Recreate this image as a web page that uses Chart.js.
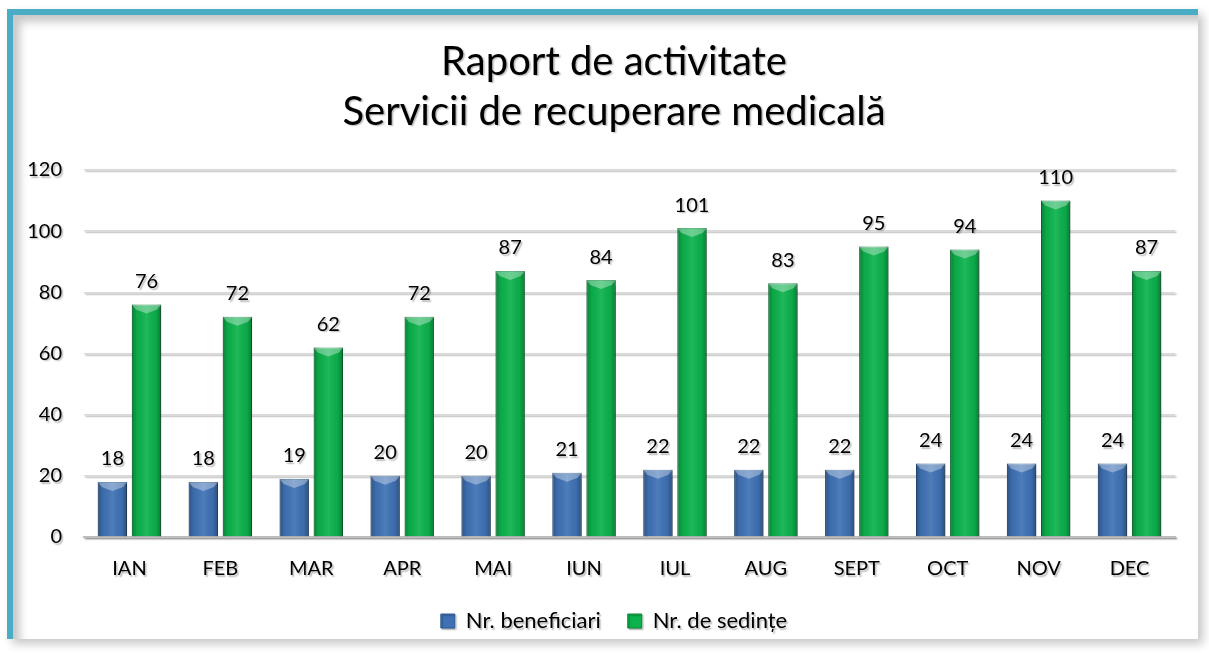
<!DOCTYPE html>
<html>
<head>
<meta charset="utf-8">
<script src="https://cdn.jsdelivr.net/npm/chart.js@4/dist/chart.umd.min.js"></script>
<style>
  body { margin: 0; background: #fff; }
  .frame {
    position: absolute; left: 7px; top: 9px;
    width: 1185px; height: 624px;
    border-top: 6px solid #4bacc6; border-left: 6px solid #4bacc6;
    box-shadow: inset 7px 7px 9px rgba(0,0,0,0.22), 5px 5px 9px rgba(0,0,0,0.22);
    background: #fff;
  }
  canvas { display: block; }
</style>
</head>
<body>
<div class="frame"><canvas id="raport" width="1185" height="629"></canvas></div>
<script>
var luni = ['IAN', 'FEB', 'MAR', 'APR', 'MAI', 'IUN', 'IUL', 'AUG', 'SEPT', 'OCT', 'NOV', 'DEC'];
var beneficiari = [18, 18, 19, 20, 20, 21, 22, 22, 22, 24, 24, 24];
var sedinte = [76, 72, 62, 72, 87, 84, 101, 83, 95, 94, 110, 87];
var yTicks = [0, 20, 40, 60, 80, 100, 120];

var font = 'Lato, "Open Sans", sans-serif';

// umbra discreta pentru texte si linii, ca in stilul Office
var umbra = {
  id: 'umbra',
  beforeDraw: function (chart) {
    var ctx = chart.ctx;
    ctx.shadowColor = 'rgba(0,0,0,0.28)';
    ctx.shadowOffsetX = 1.5;
    ctx.shadowOffsetY = 1.5;
    ctx.shadowBlur = 1.5;
  }
};

// titlul si legenda centrate putin mai la dreapta, peste zona graficului
var centrare = {
  id: 'centrare',
  afterLayout: function (chart) {
    [chart.titleBlock, chart.legend].forEach(function (box) {
      if (box) { box.left += 20; box.right += 20; }
    });
  }
};

// relief pe coloane + valorile deasupra lor
var coloane = {
  id: 'coloane',
  afterDatasetsDraw: function (chart) {
    var ctx = chart.ctx;
    ctx.save();
    ctx.shadowColor = 'transparent';
    chart.data.datasets.forEach(function (ds, i) {
      var meta = chart.getDatasetMeta(i);
      meta.data.forEach(function (bar, j) {
        var l = bar.x - bar.width / 2, r = bar.x + bar.width / 2;
        var top = bar.y, bottom = bar.base;
        var g = ctx.createLinearGradient(l, 0, r, 0);
        g.addColorStop(0, 'rgba(0,0,0,0.28)');
        g.addColorStop(0.18, 'rgba(0,0,0,0.05)');
        g.addColorStop(0.5, 'rgba(255,255,255,0.08)');
        g.addColorStop(0.82, 'rgba(0,0,0,0.05)');
        g.addColorStop(1, 'rgba(0,0,0,0.3)');
        ctx.fillStyle = g;
        ctx.fillRect(l, top, r - l, bottom - top);
        // tesitura de sus
        ctx.fillStyle = 'rgba(255,255,255,0.35)';
        ctx.beginPath();
        ctx.moveTo(l, top);
        ctx.lineTo(r, top);
        ctx.lineTo(r - 4, top + 5);
        ctx.lineTo(bar.x, top + 9);
        ctx.lineTo(l + 4, top + 5);
        ctx.closePath();
        ctx.fill();
      });
    });
    ctx.restore();

    ctx.save();
    ctx.font = '20px ' + font;
    ctx.fillStyle = '#000';
    ctx.textAlign = 'center';
    ctx.textBaseline = 'bottom';
    chart.data.datasets.forEach(function (ds, i) {
      var meta = chart.getDatasetMeta(i);
      meta.data.forEach(function (bar, j) {
        ctx.fillText(ds.data[j], bar.x, bar.y - 13);
      });
    });
    ctx.restore();
  }
};

new Chart(document.getElementById('raport'), {
  type: 'bar',
  data: {
    labels: luni,
    datasets: [
      {
        label: 'Nr. beneficiari',
        data: beneficiari,
        backgroundColor: '#3f72b5',
        borderColor: '#2d5a93',
        borderWidth: 1,
        categoryPercentage: 0.75,
        barPercentage: 0.86
      },
      {
        label: 'Nr. de sedințe',
        data: sedinte,
        backgroundColor: '#0cb24c',
        borderColor: '#08873a',
        borderWidth: 1,
        categoryPercentage: 0.75,
        barPercentage: 0.86
      }
    ]
  },
  options: {
    responsive: false,
    animation: false,
    layout: { padding: { left: 0, right: 23, top: 0, bottom: 2 } },
    plugins: {
      title: {
        display: true,
        text: ['Raport de activitate', 'Servicii de recuperare medicală'],
        color: '#000',
        font: { family: font, size: 40, weight: 'normal', lineHeight: 1.25 },
        padding: { top: 22, bottom: 33 }
      },
      legend: {
        position: 'bottom',
        labels: {
          color: '#000',
          boxWidth: 14,
          boxHeight: 14,
          padding: 27,
          font: { family: font, size: 22 }
        }
      },
      tooltip: { enabled: false }
    },
    scales: {
      x: {
        grid: { display: false },
        border: { color: '#bdbdbd', width: 2 },
        ticks: { color: '#000', padding: 12, font: { family: font, size: 20 } },
        afterFit: function (scale) { scale.height -= 10; }
      },
      y: {
        min: 0,
        max: 120,
        afterBuildTicks: function (scale) {
          scale.ticks = yTicks.map(function (v) { return { value: v }; });
        },
        afterFit: function (scale) { scale.width = 71; },
        grid: { color: '#d9d9d9', lineWidth: 1.5, drawTicks: false },
        border: { display: false },
        ticks: { color: '#000', padding: 22, font: { family: font, size: 20 } }
      }
    }
  },
  plugins: [umbra, centrare, coloane]
});
</script>
</body>
</html>
